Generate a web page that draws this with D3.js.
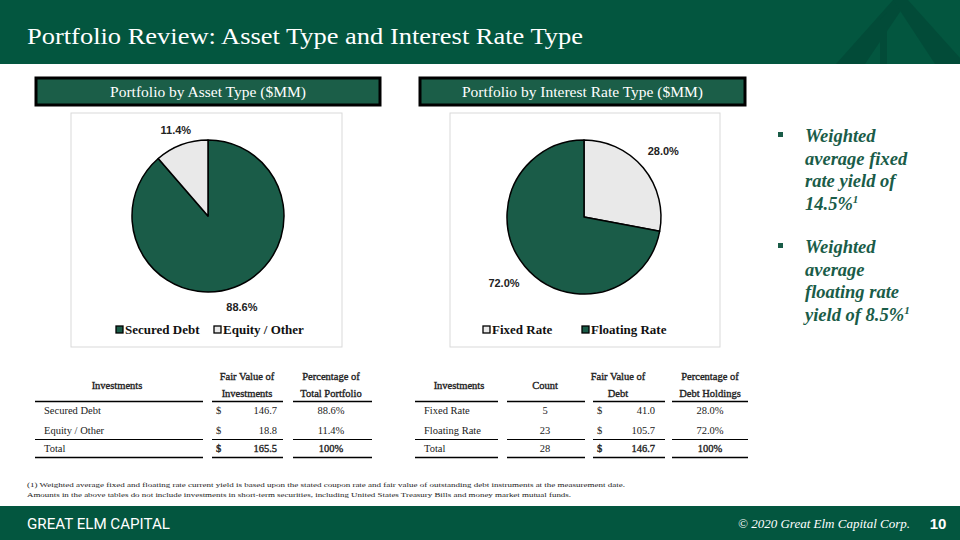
<!DOCTYPE html>
<html><head><meta charset="utf-8">
<script src="https://cdn.jsdelivr.net/npm/d3@7"></script>
<style>html,body{margin:0;padding:0;background:#fff;}svg{display:block;}</style>
</head><body>
<svg id="c" width="960" height="540"></svg>
<script>
// ---- data ----
const assetCategories = ["Secured Debt", "Equity / Other"];
const assetValues = [146.7, 18.8];
const assetPct = [88.6, 11.4];
const assetTotal = 165.5;
const rateCategories = ["Fixed Rate", "Floating Rate"];
const rateCounts = [5, 23];
const rateValues = [41.0, 105.7];
const ratePct = [28.0, 72.0];
const rateTotalCount = 28;
const rateTotal = 146.7;
const bulletLines = [
  ["Weighted", "average fixed", "rate yield of", "14.5%"],
  ["Weighted", "average", "floating rate", "yield of 8.5%"]
];
const footnotes = [
  "(1) Weighted average fixed and floating rate current yield is based upon the stated coupon rate and fair value of outstanding debt instruments at the measurement date.",
  "Amounts in the above tables do not include investments in short-term securities, including United States Treasury Bills and money market mutual funds."
];

const GREEN = "#03563f", PIEGREEN = "#1a5c48", GRAY = "#e9e9e9";
const SERIF = "'Liberation Serif','DejaVu Serif',serif";
const SANS = "'Liberation Sans',Arial,sans-serif";
const svg = d3.select("#c");

// header
svg.append("rect").attr("x",0).attr("y",0).attr("width",960).attr("height",64).attr("fill",GREEN);
const logo = svg.append("g").attr("fill","#024b38");
logo.append("path").attr("d","M893,0 L908,0 L865,64 L836,64 Z");
logo.append("path").attr("d","M893,0 L908,0 L960,58 L960,64 L935,64 Z");
logo.append("path").attr("d","M880,20 L887,12 L887,64 L880,64 Z");
svg.append("text").attr("x",27).attr("y",44).attr("fill","#fff")
  .style("font-family",SERIF).style("font-size","23px")
  .attr("textLength",556).attr("lengthAdjust","spacingAndGlyphs")
  .text("Portfolio Review: Asset Type and Interest Rate Type");

// footer
svg.append("rect").attr("x",0).attr("y",506).attr("width",960).attr("height",34).attr("fill",GREEN);
svg.append("text").attr("x",27).attr("y",529).attr("fill","#fff")
  .style("font-family","Roboto,"+SANS).style("font-size","15px").style("font-weight",400)
  .attr("textLength",143).attr("lengthAdjust","spacingAndGlyphs").text("GREAT ELM CAPITAL");
svg.append("text").attr("x",910).attr("y",528).attr("text-anchor","end").attr("fill","#fff")
  .style("font-family",SERIF).style("font-style","italic").style("font-size","13px")
  .text("© 2020 Great  Elm Capital Corp.");
svg.append("text").attr("x",938).attr("y",529).attr("text-anchor","middle").attr("fill","#fff")
  .style("font-family",SANS).style("font-weight","bold").style("font-size","15px").text("10");

// footnotes
footnotes.forEach((t,i)=>{
  svg.append("text").attr("x",27).attr("y",487+i*10).attr("fill","#222")
    .style("font-family",SERIF).style("font-size","7px")
    .attr("textLength", i===0?598:544).attr("lengthAdjust","spacingAndGlyphs").text(t);
});

// panel boxes
function titleBox(x,w,txt){
  svg.append("rect").attr("x",x).attr("y",78).attr("width",w).attr("height",27)
    .attr("fill","#1b5e48").attr("stroke","#000").attr("stroke-width",3);
  svg.append("text").attr("x",x+w/2).attr("y",97).attr("text-anchor","middle").attr("fill","#fff")
    .style("font-family",SERIF).style("font-size","15.5px").text(txt);
}
titleBox(36,344,"Portfolio by Asset Type ($MM)");
titleBox(420,325,"Portfolio by Interest Rate Type ($MM)");

// pie charts
function pieChart(cx,cy,r,cats,vals,pcts,colors,labR,box,legend){
  svg.append("rect").attr("x",box[0]).attr("y",box[1]).attr("width",box[2]).attr("height",box[3])
    .attr("fill","#fff").attr("stroke","#d9d9d9").attr("stroke-width",1);
  const pie = d3.pie().sort(null).value(d=>d.v);
  const data = pie(cats.map((c,i)=>({c, v:vals[i], p:pcts[i], col:colors[i]})));
  const arc = d3.arc().innerRadius(0).outerRadius(r);
  const g = svg.append("g").attr("transform",`translate(${cx},${cy})`);
  g.selectAll("path").data(data).join("path").attr("d",arc)
    .attr("fill",d=>d.data.col).attr("stroke","#000").attr("stroke-width",1.5).attr("stroke-linejoin","round");
  g.selectAll("text").data(data).join("text")
    .attr("transform",(d,i)=>{const a=(d.startAngle+d.endAngle)/2; const rr=labR[i]; return `translate(${Math.sin(a)*rr},${-Math.cos(a)*rr})`;})
    .attr("text-anchor","middle").attr("dy","0.35em")
    .style("font-family",SANS).style("font-weight","bold").style("font-size","11px").attr("fill","#222")
    .text(d=>d3.format(".1f")(d.data.p)+"%");
  // legend
  legend.forEach((lx,i)=>{
    svg.append("rect").attr("x",lx).attr("y",legend.y-4).attr("width",7).attr("height",7)
      .attr("fill",colors[i]).attr("stroke","#000").attr("stroke-width",1.3);
    svg.append("text").attr("x",lx+9).attr("y",legend.y+4).attr("fill","#111")
      .style("font-family",SERIF).style("font-weight","bold").style("font-size","13px").text(cats[i]);
  });
}
const leg1=[116,214]; leg1.y=330;
pieChart(208,216,76,assetCategories,assetValues,assetPct,[PIEGREEN,GRAY],[97,92],[71,113,271,234],leg1);
const leg2=[483,582]; leg2.y=330;
pieChart(584,217,77,rateCategories,rateValues,ratePct,[GRAY,PIEGREEN],[103,104],[450,113,270,234],leg2);

// bullets
bulletLines.forEach((lines,b)=>{
  const y0 = b===0?142:253;
  svg.append("rect").attr("x",778).attr("y",y0-10).attr("width",5).attr("height",5).attr("fill",PIEGREEN);
  lines.forEach((ln,j)=>{
    const t = svg.append("text").attr("x",805).attr("y",y0+j*22.7).attr("fill",PIEGREEN)
      .style("font-family",SERIF).style("font-style","italic").style("font-weight","bold").style("font-size","18.5px");
    t.append("tspan").text(ln);
    if(j===lines.length-1) t.append("tspan").attr("dy",-7).style("font-size","11px").text("1");
  });
});

// tables
function txt(x,y,s,anchor,bold){
  const t = svg.append("text").attr("x",x).attr("y",y).attr("text-anchor",anchor||"start").attr("fill","#222")
    .style("font-family",SERIF).style("font-size","10.5px").text(s);
  if(bold) t.attr("stroke","#222").attr("stroke-width",0.35);
}
function hline(x1,x2,y,w){
  svg.append("line").attr("x1",x1).attr("x2",x2).attr("y1",y).attr("y2",y).attr("stroke","#000").attr("stroke-width",w);
}
const fmt1 = d3.format(".1f");
const rowY = [414,433.5,452];
// table 1
txt(117,389,"Investments","middle",true);
txt(247,380,"Fair Value of","middle",true); txt(247,397,"Investments","middle",true);
txt(331,380,"Percentage of","middle",true); txt(331,397,"Total Portfolio","middle",true);
[[35,203],[212,283],[293,372]].forEach(s=>{hline(s[0],s[1],401.5,1.5); hline(s[0],s[1],457.5,1.5); hline(s[0],s[1],439.5,1);});
assetCategories.forEach((c,i)=>{
  txt(44,rowY[i],c); txt(216,rowY[i],"$"); txt(277,rowY[i],fmt1(assetValues[i]),"end"); txt(331,rowY[i],fmt1(assetPct[i])+"%","middle");
});
txt(44,rowY[2],"Total"); txt(216,rowY[2],"$",null,true); txt(277,rowY[2],fmt1(assetTotal),"end",true); txt(331,rowY[2],"100%","middle",true);
// table 2
txt(459,389,"Investments","middle",true);
txt(545,389,"Count","middle",true);
txt(618,380,"Fair Value of","middle",true); txt(618,397,"Debt","middle",true);
txt(710,380,"Percentage of","middle",true); txt(710,397,"Debt Holdings","middle",true);
[[415,498],[507,585],[593,665],[672,748]].forEach(s=>{hline(s[0],s[1],401.5,1.5); hline(s[0],s[1],457.5,1.5); hline(s[0],s[1],439.5,1);});
rateCategories.forEach((c,i)=>{
  txt(424,rowY[i],c); txt(545,rowY[i],String(rateCounts[i]),"middle"); txt(597,rowY[i],"$"); txt(655,rowY[i],fmt1(rateValues[i]),"end"); txt(710,rowY[i],fmt1(ratePct[i])+"%","middle");
});
txt(424,rowY[2],"Total"); txt(545,rowY[2],String(rateTotalCount),"middle"); txt(597,rowY[2],"$",null,true); txt(655,rowY[2],fmt1(rateTotal),"end",true); txt(710,rowY[2],"100%","middle",true);
</script>
</body></html>
